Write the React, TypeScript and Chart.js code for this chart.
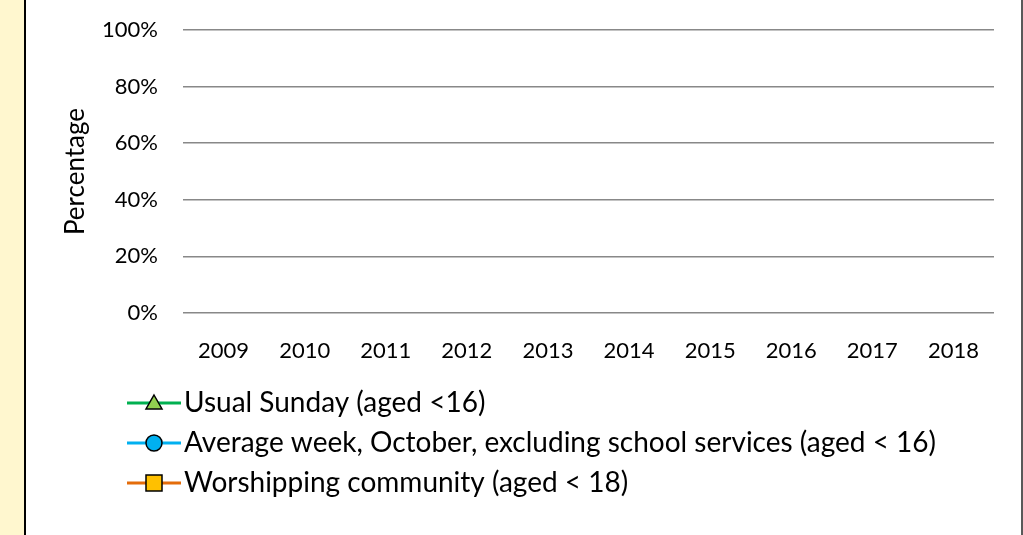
import React, { useEffect, useRef } from "react";
import { Chart, registerables } from "chart.js";

Chart.register(...registerables);

const years = ["2009", "2010", "2011", "2012", "2013", "2014", "2015", "2016", "2017", "2018"];
const usualSunday: (number | null)[] = [null, null, null, null, null, null, null, null, null, null];
const averageWeek: (number | null)[] = [null, null, null, null, null, null, null, null, null, null];
const worshipping: (number | null)[] = [null, null, null, null, null, null, null, null, null, null];
const yTicks = [0, 20, 40, 60, 80, 100];

const FONT = "Lato, 'Open Sans', sans-serif";

const legendPlugin = {
  id: "stackedLegend",
  afterDraw(chart: any) {
    const ctx: CanvasRenderingContext2D = chart.ctx;
    const rows = [403, 443, 483];
    chart.data.datasets.forEach((ds: any, i: number) => {
      const y = rows[i];
      ctx.save();
      ctx.strokeStyle = ds.borderColor;
      ctx.lineWidth = 3;
      ctx.beginPath();
      ctx.moveTo(101, y);
      ctx.lineTo(155, y);
      ctx.stroke();
      ctx.fillStyle = ds.pointBackgroundColor;
      ctx.strokeStyle = "#000";
      ctx.lineWidth = 1.5;
      const cx = 128;
      ctx.beginPath();
      if (ds.pointStyle === "triangle") {
        ctx.moveTo(cx, y - 8);
        ctx.lineTo(cx + 8, y + 6);
        ctx.lineTo(cx - 8, y + 6);
        ctx.closePath();
      } else if (ds.pointStyle === "circle") {
        ctx.arc(cx, y, 8, 0, Math.PI * 2);
      } else {
        ctx.rect(cx - 8, y - 8, 16, 16);
      }
      ctx.fill();
      ctx.stroke();
      ctx.fillStyle = "#000";
      ctx.font = `28px ${FONT}`;
      ctx.textBaseline = "middle";
      ctx.textAlign = "left";
      ctx.fillText(ds.label, 158, y);
      ctx.restore();
    });
  },
};

export default function App() {
  const ref = useRef<HTMLCanvasElement | null>(null);
  useEffect(() => {
    document.body.style.margin = "0";
    const chart = new Chart(ref.current as HTMLCanvasElement, {
      type: "line",
      data: {
        labels: years,
        datasets: [
          {
            label: "Usual Sunday (aged <16)",
            data: usualSunday,
            borderColor: "#00B050",
            pointBackgroundColor: "#92D050",
            pointBorderColor: "#000",
            pointStyle: "triangle",
            borderWidth: 3,
          },
          {
            label: "Average week, October, excluding school services (aged < 16)",
            data: averageWeek,
            borderColor: "#00B0F0",
            pointBackgroundColor: "#00B0F0",
            pointBorderColor: "#000",
            pointStyle: "circle",
            borderWidth: 3,
          },
          {
            label: "Worshipping community (aged < 18)",
            data: worshipping,
            borderColor: "#E46C0A",
            pointBackgroundColor: "#FFC000",
            pointBorderColor: "#000",
            pointStyle: "rect",
            borderWidth: 3,
          },
        ],
      },
      options: {
        animation: false,
        responsive: false,
        maintainAspectRatio: false,
        layout: { padding: { left: 0, right: 27, top: 30, bottom: 162 } },
        plugins: { legend: { display: false }, tooltip: { enabled: false } },
        scales: {
          x: {
            offset: true,
            grid: { display: false },
            border: { display: false },
            ticks: { color: "#000", font: { family: FONT, size: 22 }, padding: 17 },
            afterFit: (s: any) => {
              s.height = 60;
              s.paddingLeft = 0;
              s.paddingRight = 0;
            },
          },
          y: {
            min: 0,
            max: 100,
            afterBuildTicks: (s: any) => {
              s.ticks = yTicks.map((v) => ({ value: v }));
            },
            grid: { color: "#888888", lineWidth: 1.6, drawTicks: false },
            border: { display: false },
            ticks: {
              color: "#000",
              font: { family: FONT, size: 22 },
              padding: 25,
              callback: (v: any) => `${v}%`,
            },
            title: {
              display: true,
              text: "Percentage",
              color: "#000",
              font: { family: FONT, size: 26 },
              padding: { top: 34, bottom: 0 },
            },
            afterFit: (s: any) => {
              s.width = 157;
              s.paddingTop = 0;
              s.paddingBottom = 0;
            },
          },
        },
      },
      plugins: [legendPlugin],
    });
    return () => chart.destroy();
  }, []);
  return (
    <div style={{ position: "relative", width: 1023, height: 535, background: "#fff", overflow: "hidden" }}>
      <div style={{ position: "absolute", left: 0, top: 0, width: 24, height: 535, background: "#FFF7CF" }} />
      <div style={{ position: "absolute", left: 24, top: 0, width: 2, height: 535, background: "#000" }} />
      <div style={{ position: "absolute", left: 1021, top: 0, width: 2, height: 535, background: "#595959" }} />
      <canvas ref={ref} width={995} height={535} style={{ position: "absolute", left: 26, top: 0 }} />
    </div>
  );
}
